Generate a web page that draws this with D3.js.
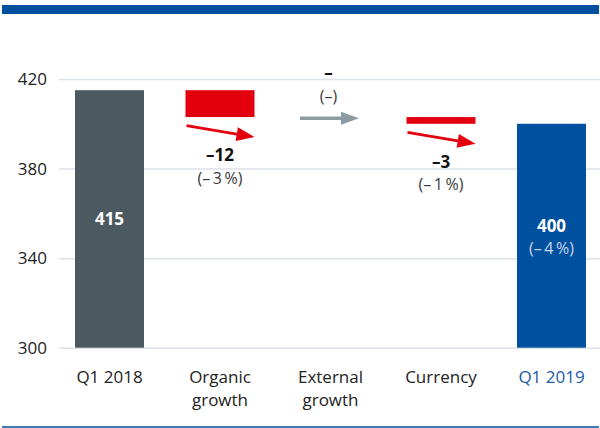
<!DOCTYPE html>
<html>
<head>
<meta charset="utf-8">
<script src="https://cdn.jsdelivr.net/npm/d3@7"></script>
<style>
  body { margin: 0; background: #fff; }
  svg { display: block; font-family: 'Open Sans', sans-serif; }
</style>
</head>
<body>
<div id="chart"></div>
<script>
// Bridge data
const categories = ['Q1 2018', 'Organic\ngrowth', 'External\ngrowth', 'Currency', 'Q1 2019'];
const kinds = ['total', 'delta', 'delta', 'delta', 'total'];
const values = [415, -12, 0, -3, 400];
const valueLabels = ['415', '\u201312', '\u2013', '\u20133', '400'];
const pctLabels = ['', '(\u2013\u20093\u2009%)', '(\u2013)', '(\u2013\u20091\u2009%)', '(\u2013\u20094\u2009%)'];
const yTicks = [300, 340, 380, 420];

const W = 600;
const H = 428;

const colors = {
  base: '#4d5960',
  neg: '#e2000f',
  zero: '#8e9aa2',
  total: '#0050a0',
  grid: '#dde2e7',
  band: '#0050a0'
};

// running totals
let run = 0;
const bars = categories.map((c, i) => {
  let from;
  let to;
  if (kinds[i] === 'total') {
    from = 300;
    to = values[i];
    run = values[i];
  } else {
    from = run;
    to = run + values[i];
    run = to;
  }
  return { c, i, kind: kinds[i], v: values[i], from, to };
});

const scaleX = d3.scaleBand()
  .domain(d3.range(categories.length))
  .range([54.25, 606.75])
  .paddingInner(0.3756)
  .paddingOuter(0.1878);
const scaleY = d3.scaleLinear().domain([300, 420]).range([347.7, 79]);

const svg = d3.select('#chart')
  .append('svg')
  .attr('width', W)
  .attr('height', H);

// top band and bottom rule
svg.append('rect')
  .attr('x', 2)
  .attr('y', 5)
  .attr('width', 597)
  .attr('height', 9)
  .attr('fill', colors.band);

svg.append('line')
  .attr('x1', 2)
  .attr('x2', 599)
  .attr('y1', 427)
  .attr('y2', 427)
  .attr('stroke', colors.band)
  .attr('stroke-width', 1.5);

// Grid + y labels
const yAxis = d3.axisLeft(scaleY)
  .tickValues(yTicks)
  .tickSize(-(600 - 59))
  .tickPadding(12);

const gy = svg.append('g')
  .attr('transform', 'translate(59, 0)')
  .call(yAxis);
gy.select('.domain').remove();
gy.selectAll('.tick line').attr('stroke', colors.grid).attr('stroke-width', 1.5);
gy.selectAll('.tick text')
  .attr('x', -12)
  .attr('fill', '#222')
  .style('font-size', '17px')
  .style('font-family', "'Open Sans', sans-serif");

// Bars (skip zero-height deltas)
const bw = scaleX.bandwidth();
svg.append('g')
  .selectAll('rect')
  .data(bars.filter(d => d.v !== 0))
  .join('rect')
  .attr('x', d => scaleX(d.i))
  .attr('width', bw)
  .attr('y', d => scaleY(Math.max(d.from, d.to)))
  .attr('height', d => Math.abs(scaleY(d.from) - scaleY(d.to)))
  .attr('fill', d => {
    if (d.kind === 'delta') return colors.neg;
    return d.i === 0 ? colors.base : colors.total;
  });

// Arrows for deltas
function arrowPath(x1, y1, x2, y2, hl, hw, lw) {
  const dx = x2 - x1;
  const dy = y2 - y1;
  const len = Math.sqrt(dx * dx + dy * dy);
  const ux = dx / len;
  const uy = dy / len;
  const px = -uy;
  const py = ux;
  const bx = x2 - ux * hl;
  const by = y2 - uy * hl;
  const p = [
    [x1 + px * lw / 2, y1 + py * lw / 2],
    [bx + px * lw / 2, by + py * lw / 2],
    [bx + px * hw / 2, by + py * hw / 2],
    [x2, y2],
    [bx - px * hw / 2, by - py * hw / 2],
    [bx - px * lw / 2, by - py * lw / 2],
    [x1 - px * lw / 2, y1 - py * lw / 2]
  ];
  return 'M' + p.map(q => q.join(',')).join('L') + 'Z';
}

const deltas = bars.filter(d => d.kind === 'delta');
svg.append('g')
  .selectAll('path')
  .data(deltas)
  .join('path')
  .attr('fill', d => (d.v === 0 ? colors.zero : colors.neg))
  .attr('d', d => {
    const x0 = scaleX(d.i);
    const yEnd = scaleY(d.to);
    if (d.v === 0) {
      return arrowPath(x0 + 4, yEnd + 1.3, x0 + 63, yEnd + 1.3, 18, 13, 3.5);
    }
    return arrowPath(x0 + 1, yEnd + 8.5, x0 + bw, yEnd + 20, 18, 14, 2.8);
  });

// Delta labels
const dl = svg.append('g').attr('text-anchor', 'middle');
deltas.forEach(d => {
  const cx = scaleX(d.i) + bw / 2 - (d.v === 0 ? 2 : 0);
  const yEnd = scaleY(d.to);
  const yv = d.v === 0 ? yEnd - 38 : yEnd + 44;
  const yp = d.v === 0 ? yEnd - 15.5 : yEnd + 66.5;
  dl.append('text')
    .attr('x', cx)
    .attr('y', yv)
    .attr('font-size', 17)
    .attr('font-weight', 700)
    .attr('fill', '#111')
    .text(valueLabels[d.i]);
  dl.append('text')
    .attr('x', cx)
    .attr('y', yp)
    .attr('font-size', 16)
    .attr('fill', '#3a3a3a')
    .text(pctLabels[d.i]);
});

// Total labels, centred vertically inside the bars
const totals = bars.filter(d => d.kind === 'total');
totals.forEach(d => {
  const cx = scaleX(d.i) + bw / 2;
  const mid = (scaleY(d.from) + scaleY(d.to)) / 2;
  const hasPct = !!pctLabels[d.i];
  dl.append('text')
    .attr('x', cx)
    .attr('y', hasPct ? mid - 4 : mid + 6.5)
    .attr('font-size', 17)
    .attr('font-weight', 700)
    .attr('fill', '#fff')
    .text(valueLabels[d.i]);
  if (hasPct) {
    dl.append('text')
      .attr('x', cx)
      .attr('y', mid + 18.5)
      .attr('font-size', 16)
      .attr('fill', '#c9d8ea')
      .text(pctLabels[d.i]);
  }
});

// Category labels
const cl = svg.append('g').attr('text-anchor', 'middle');
categories.forEach((c, i) => {
  const t = cl.append('text')
    .attr('x', scaleX(i) + bw / 2)
    .attr('y', 383)
    .attr('font-size', 17)
    .attr('fill', i === categories.length - 1 ? '#1a5aa6' : '#222');
  c.split('\n').forEach((line, j) => {
    t.append('tspan')
      .attr('x', scaleX(i) + bw / 2)
      .attr('dy', j === 0 ? 0 : 23)
      .text(line);
  });
});
</script>
</body>
</html>
